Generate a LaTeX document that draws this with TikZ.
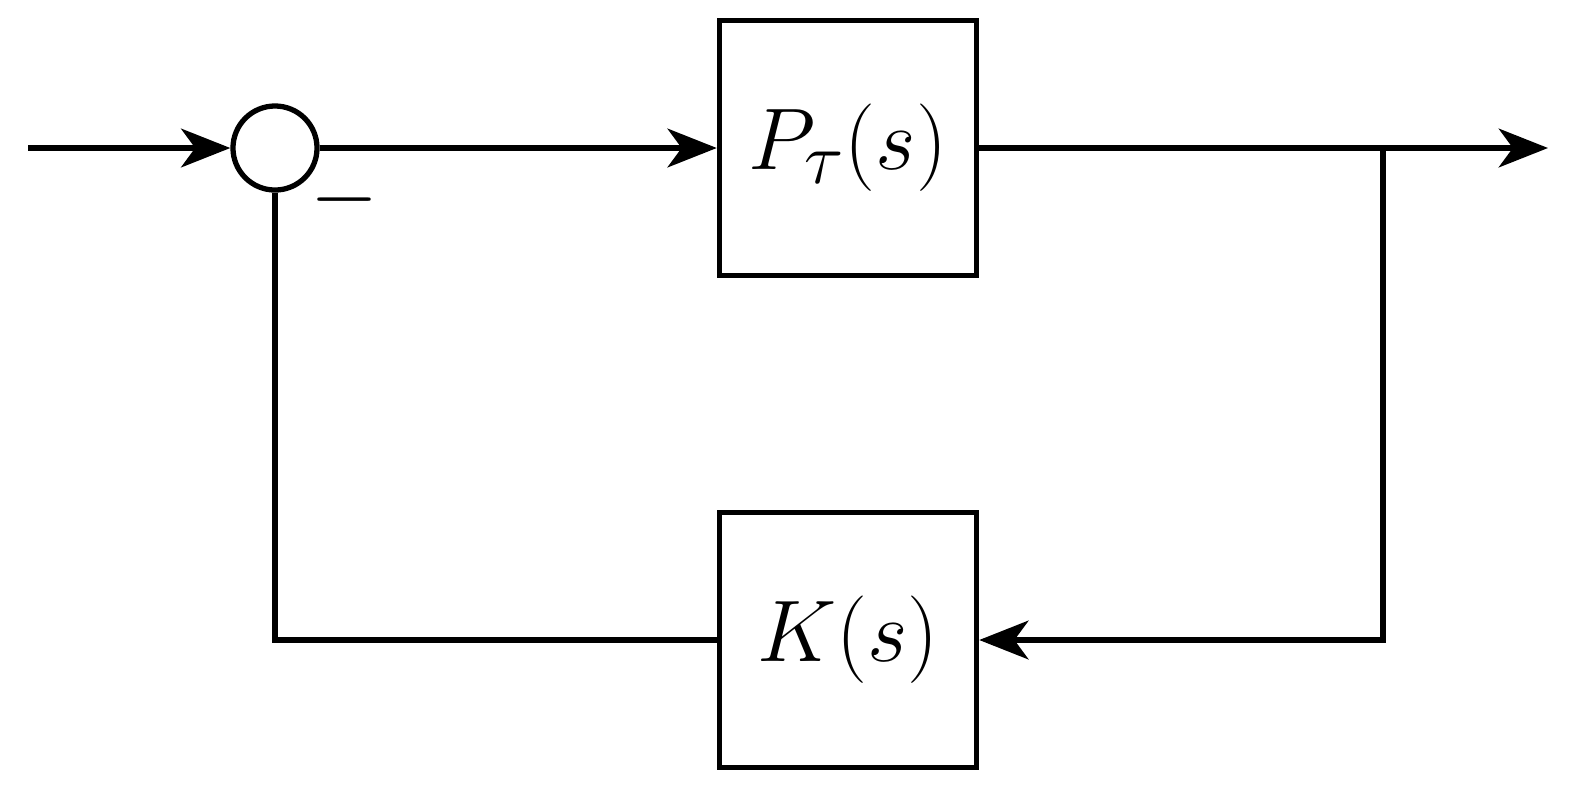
\documentclass[tikz,border=0pt]{standalone}
\usetikzlibrary{arrows.meta}
\begin{document}
\begin{tikzpicture}[x=0.01cm,y=-0.01cm,line width=1.5pt,
  blk/.style={draw,minimum width=2.57cm,minimum height=2.55cm,font=\fontsize{30}{36}\selectfont},
  sum/.style={draw,circle,minimum size=0.84cm,inner sep=0pt},
  arr/.style={-{Stealth[length=14pt,width=11pt,inset=4pt]}}]
\useasboundingbox (0,0) rectangle (1585,805);
\node[blk] (P) at (848,148) {$P_\tau(s)$};
\node[blk] (K) at (848,640) {$K(s)$};
\node[sum] (S) at (275,148) {};
\coordinate (in) at (28,148);
\coordinate (out) at (1548,148);
\coordinate (br) at (1383,148);
\coordinate (brd) at (1383,640);
\coordinate (kl) at (275,640);
\draw[arr] (in) -- (S);
\draw[arr] (S) -- (P);
\draw[arr] (P) -- (out);
\draw[arr] (br) -- (brd) -- (K);
\draw (K) -- (kl) -- (S);
\node[font=\fontsize{30}{36}\selectfont] (m) at (345,200) {$-$};
\end{tikzpicture}
\end{document}
